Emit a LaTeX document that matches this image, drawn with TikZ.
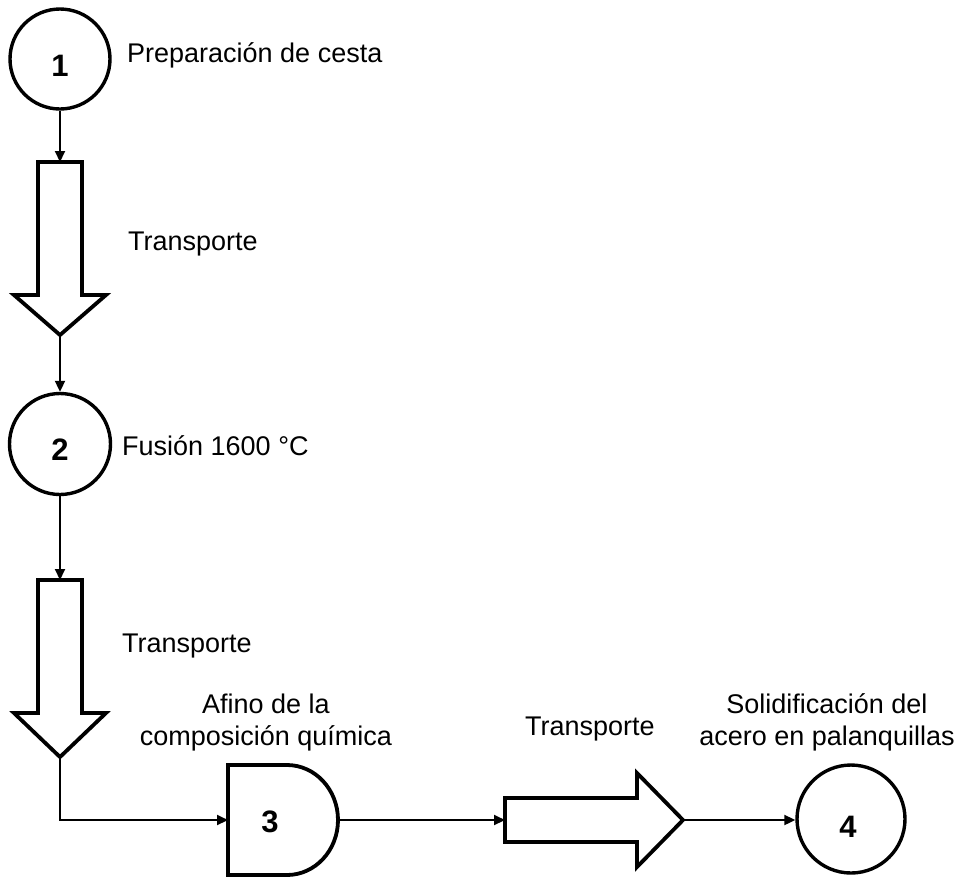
\documentclass[tikz,border=0pt]{standalone}
\usepackage{fontspec}
\setmainfont{Liberation Sans}
\usetikzlibrary{arrows.meta}
\begin{document}
\begin{tikzpicture}[x=1pt,y=-1pt,
  opcircle/.style={circle,draw,line width=3.4pt,inner sep=0pt},
  shapeline/.style={draw,line width=3.8pt,line join=miter},
  conn/.style={draw,line width=2pt,-{Triangle[length=11pt,width=10pt]}},
  lbl/.style={inner sep=0pt,font=\fontsize{27}{32}\selectfont},
  num/.style={inner sep=0pt,font=\fontsize{31}{36}\selectfont\bfseries}]
\useasboundingbox (0,0) rectangle (958,876);

% operation 1
\node[opcircle,minimum size=100pt] (c1) at (60,59) {};
\node[num] (n1) at (60,66) {1};
\node[lbl,anchor=base west] (t1) at (127,62) {Preparación de cesta};

% block arrow 1
\coordinate (b1top) at (60,162);
\coordinate (b1tip) at (60,335);
\draw[shapeline] (38,162) -- (82,162) -- (82,295) -- (106,295) -- (b1tip) -- (14,295) -- (38,295) -- cycle;
\node[lbl,anchor=base west] (t2) at (128,250) {Transporte};

% operation 2
\node[opcircle,minimum size=101pt] (c2) at (60,444) {};
\node[num] (n2) at (60,449.5) {2};
\node[lbl,anchor=base west] (t3) at (122,455) {Fusión 1600 °C};

% block arrow 2
\coordinate (b2top) at (60,580);
\coordinate (b2tip) at (60,757);
\draw[shapeline] (38,580) -- (82,580) -- (82,713) -- (106,713) -- (b2tip) -- (14,713) -- (38,713) -- cycle;
\node[lbl,anchor=base west] (t4) at (122,652) {Transporte};

% operation 3 (D shape)
\coordinate (d3in) at (228,820);
\coordinate (d3out) at (338,820);
\draw[shapeline] (228,765) -- (287,765) arc[start angle=90,end angle=-90,x radius=51pt,y radius=55pt] -- (228,875) -- cycle;
\node[num] (n3) at (270,822) {3};
\node[lbl,align=center,anchor=base] (t5) at (266,745) {Afino de la\\composición química};

% block arrow 3
\coordinate (b3tail) at (505,820);
\coordinate (b3tip) at (683,820);
\draw[shapeline] (505,798) -- (637,798) -- (637,773) -- (b3tip) -- (637,867) -- (637,842) -- (505,842) -- cycle;
\node[lbl,anchor=base west] (t6) at (525,735) {Transporte};

% operation 4
\node[opcircle,minimum size=108pt] (c4) at (851,819) {};
\node[num] (n4) at (848,827) {4};
\node[lbl,align=center,anchor=base] (t7) at (827,745) {Solidificación del\\acero en palanquillas};

% connectors
\draw[conn] (c1.south) -- (b1top);
\draw[conn] (b1tip) -- (c2.north);
\draw[conn] (c2.south) -- (b2top);
\draw[conn] (b2tip) |- (d3in);
\draw[conn] (d3out) -- (b3tail);
\draw[conn] (b3tip) -- (c4.west |- b3tip);
\end{tikzpicture}
\end{document}
